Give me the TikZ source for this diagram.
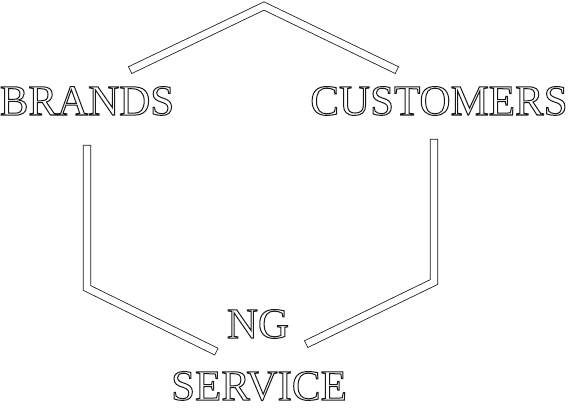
\documentclass[tikz,border=0pt]{standalone}
\usepackage{fontspec}
\setmainfont{Liberation Serif}
\usepackage{tikz}
\usetikzlibrary{positioning}
\definecolor{RichBlack}{gray}{0.1}
\newcommand{\hollowtext}[1]{%
  \special{pdf:literal direct 1 Tr 1 w}#1\special{pdf:literal direct 0 Tr}}
\tikzset{%
  label_word/.style={%
    inner sep=0pt,%
    anchor=base,%
    color=RichBlack,%
    font={\fontsize{43}{43}\selectfont},%
  },
  band_path/.style={%
    draw=RichBlack,%
    double=white,%
    double distance=6.6pt,%
    line width=0.8pt,%
    line cap=rect,%
    line join=miter,%
  },
}
\begin{document}
\begin{tikzpicture}[x=1pt, y=-1pt]
    \useasboundingbox (0, 0) rectangle (573, 415);

    \node[label_word] (Brands) at (87, 115) {\hollowtext{BRANDS}};
    \node[label_word] (Customers) at (439, 115) {\hollowtext{CUSTOMERS}};
    \node[label_word] (Ng) at (258, 338) {\hollowtext{NG}};
    \node[label_word] (Service) at (259, 400) {\hollowtext{SERVICE}};

    \coordinate (topLeft) at (133.5, 68.5);
    \coordinate (topApex) at (264, 6);
    \coordinate (topRight) at (393.5, 68.5);
    \coordinate (leftTop) at (87, 149);
    \coordinate (leftBend) at (87, 288);
    \coordinate (leftEnd) at (213, 350);
    \coordinate (rightTop) at (434, 143);
    \coordinate (rightBend) at (434, 282);
    \coordinate (rightEnd) at (309.5, 342.5);

    \draw[band_path]
      (topLeft)
      --
      (topApex)
      --
      (topRight);
    \draw[band_path]
      (leftTop)
      --
      (leftBend)
      --
      (leftEnd);
    \draw[band_path]
      (rightTop)
      --
      (rightBend)
      --
      (rightEnd);

  \end{tikzpicture}
\end{document}
